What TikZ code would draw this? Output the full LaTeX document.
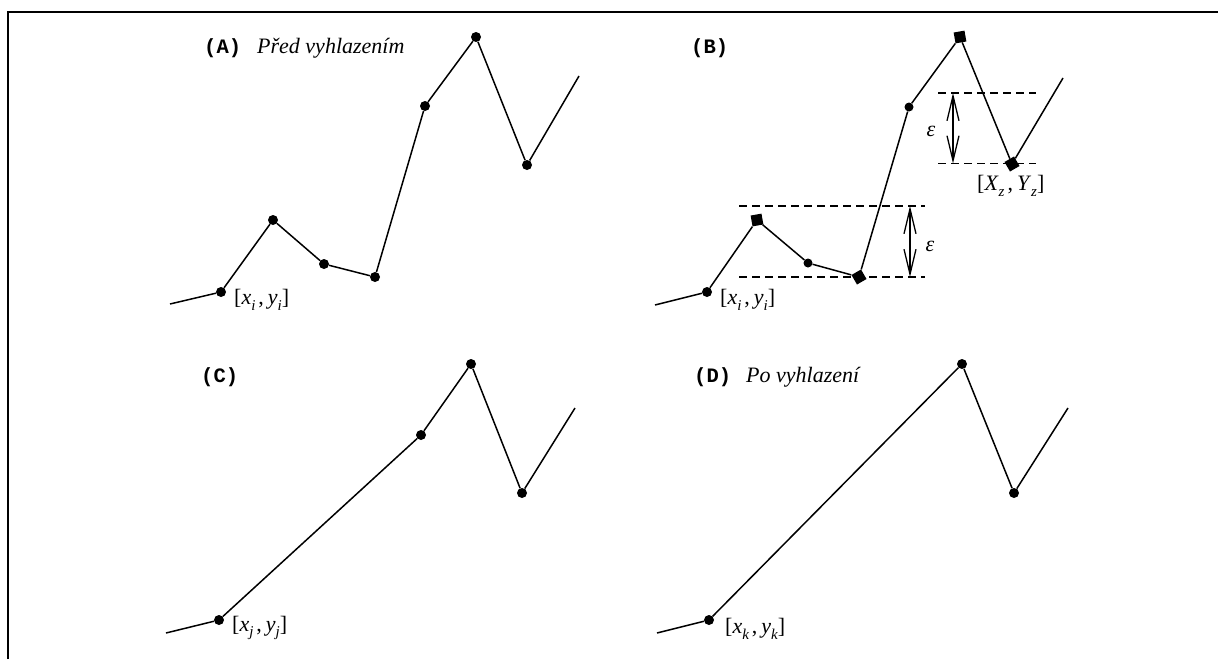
\documentclass[tikz,border=0pt]{standalone}
\usepackage{fontspec}
\setmainfont{Liberation Serif}
\newfontfamily\monob{Liberation Mono}
\usetikzlibrary{arrows.meta}
\newcommand\sbx[1]{\raisebox{-0.25em}{\fontsize{15}{15}\selectfont\itshape #1}}
\newcommand\ptlab[4]{[\textit{#1}\sbx{#2}\hspace{3pt},\hspace{4pt}\textit{#3}\sbx{#4}]}
\begin{document}
\begin{tikzpicture}[x=1pt,y=-1pt,
  dot/.style={circle,fill,inner sep=0pt,minimum size=10pt},
  sdot/.style={circle,fill,inner sep=0pt,minimum size=9pt},
  sq/.style={rectangle,fill,inner sep=0pt,minimum size=11pt},
  ln/.style={line width=1.5pt},
  dsh/.style={line width=1.3pt,dash pattern=on 8pt off 5pt},
  dim/.style={{Straight Barb[length=25pt,width=12pt]}-{Straight Barb[length=25pt,width=12pt]},line width=1.3pt},
  ttl/.style={font=\monob\bfseries\fontsize{20.5}{21}\selectfont,inner sep=0pt,anchor=base west},
  itl/.style={font=\fontsize{22}{24}\selectfont\itshape,inner sep=0pt,anchor=base west},
  lab/.style={font=\fontsize{22}{24}\selectfont,inner sep=0pt,anchor=west}]
\useasboundingbox (0,0) rectangle (1218,659);
\draw[line width=2.5pt] (8,659) -- (8,12) -- (1218,12);

% Panel A
\node[ttl] (tA) at (204,53) {(A)};
\node[itl] (sA) at (257,53) {Před vyhlazením};
\coordinate (a0) at (170,304);
\node[dot] (a1) at (221,292) {};
\node[dot] (a2) at (273,220) {};
\node[dot] (a3) at (324,264) {};
\node[dot] (a4) at (375,277) {};
\node[dot] (a5) at (425,106) {};
\node[dot] (a6) at (476,37) {};
\node[dot] (a7) at (527,165) {};
\coordinate (a8) at (579,76);
\draw[ln] (a0) -- (a1) -- (a2) -- (a3) -- (a4) -- (a5) -- (a6) -- (a7) -- (a8);
\node[lab] (la) at (234,300) {\ptlab{x}{i}{y}{i}};

% Panel B
\node[ttl] (tB) at (691,53) {(B)};
\coordinate (b0) at (655,305);
\node[dot] (b1) at (707,292) {};
\node[sq,rotate=10] (b2) at (757,220) {};
\node[sdot] (b3) at (808,263) {};
\node[sq,rotate=30] (b4) at (859,277) {};
\node[sdot] (b5) at (909,107) {};
\node[sq,rotate=10] (b6) at (960,37) {};
\node[sq,rotate=30] (b7) at (1012,164) {};
\coordinate (b8) at (1063,78);
\draw[ln] (b0) -- (b1) -- (b2) -- (b3) -- (b4) -- (b5) -- (b6) -- (b7) -- (b8);
\node[lab] (lb) at (720,300) {\ptlab{x}{i}{y}{i}};
% epsilon band lower-left
\coordinate (e1a) at (739,206); \coordinate (e1b) at (925,206);
\coordinate (e1c) at (739,277); \coordinate (e1d) at (925,277);
\coordinate (e1t) at (910,206); \coordinate (e1u) at (910,277);
\draw[dsh] (e1a) -- (e1b);
\draw[dsh] (e1c) -- (e1d);
\draw[dim] (e1t) -- (e1u);
\node[font=\fontsize{22}{24}\selectfont\itshape,inner sep=0pt] (eps1) at (930,246) {ε};
% epsilon band upper-right
\coordinate (e2a) at (938,93); \coordinate (e2b) at (1036,93);
\coordinate (e2c) at (938,163.5); \coordinate (e2d) at (1036,163.5);
\coordinate (e2t) at (953,93); \coordinate (e2u) at (953,163.5);
\draw[dsh] (e2a) -- (e2b);
\draw[dsh] (e2c) -- (e2d);
\draw[dim] (e2t) -- (e2u);
\node[font=\fontsize{22}{24}\selectfont\itshape,inner sep=0pt] (eps2) at (931,131) {ε};
\node[lab] (lz) at (977,186) {[\textit{X}\sbx{z}\hspace{3pt},\hspace{4pt}\textit{Y}\sbx{z}]};

% Panel C
\node[ttl] (tC) at (201,382) {(C)};
\coordinate (c0) at (166,633);
\node[dot] (c1) at (219,620) {};
\node[dot] (c2) at (421,435) {};
\node[dot] (c3) at (471,364) {};
\node[dot] (c4) at (522,493) {};
\coordinate (c5) at (575,408);
\draw[ln] (c0) -- (c1) -- (c2) -- (c3) -- (c4) -- (c5);
\node[lab] (lc) at (232,628) {\ptlab{x}{j}{y}{j}};

% Panel D
\node[ttl] (tD) at (694,382) {(D)};
\node[itl] (sD) at (746,382) {Po vyhlazení};
\coordinate (d0) at (657,633);
\node[dot] (d1) at (709,620) {};
\node[dot] (d2) at (962,364) {};
\node[dot] (d3) at (1014,493) {};
\coordinate (d4) at (1068,408);
\draw[ln] (d0) -- (d1) -- (d2) -- (d3) -- (d4);
\node[lab] (ld) at (725,629) {\ptlab{x}{k}{y}{k}};
\end{tikzpicture}
\end{document}
